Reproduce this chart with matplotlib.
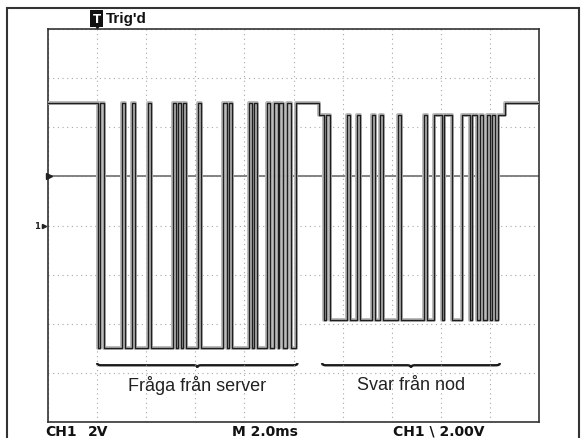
import numpy as np
import matplotlib
matplotlib.use("Agg")
import matplotlib.pyplot as plt
from matplotlib.path import Path
from matplotlib.patches import PathPatch, Rectangle

# scope settings
ms_per_div = 2.0
volt_per_div = 2.0
trig_time = 2.0
trig_level = 2.0

# levels of the two senders (V)
idle_high = 5.0
server_high = 5.0
server_low = -5.0
node_high = 4.5
node_low = -3.85

# edge times (ms), alternating fall / rise
server_edges = [2.020, 2.122, 2.286, 3.000, 3.122, 3.408, 3.531, 4.061,
                4.184, 5.082, 5.224, 5.286, 5.429, 5.490, 5.633, 6.122,
                6.245, 7.143, 7.286, 7.367, 7.510, 8.204, 8.327, 8.408,
                8.531, 8.939, 9.061, 9.224, 9.388, 9.429, 9.592, 9.755,
                9.918, 10.082]
node_start = 11.020
node_edges = [11.224, 11.306, 11.469, 12.163, 12.286, 12.592, 12.714,
              13.204, 13.327, 13.531, 13.653, 14.265, 14.388, 15.306,
              15.429, 15.714, 16.041, 16.122, 16.449, 16.857, 17.184,
              17.286, 17.490, 17.592, 17.735, 17.878, 18.020, 18.082,
              18.224, 18.327]
node_end = 18.612

brace_labels = ["Fråga från server", "Svar från nod"]


def build_trace():
    t = [0.0]
    v = [idle_high]
    for i, e in enumerate(server_edges):
        t.append(e)
        v.append(server_low if i % 2 == 0 else server_high)
    t.append(node_start)
    v.append(node_high)
    for i, e in enumerate(node_edges):
        t.append(e)
        v.append(node_low if i % 2 == 0 else node_high)
    t.append(node_end)
    v.append(idle_high)
    t.append(20.0)
    v.append(idle_high)
    return np.array(t), np.array(v)


def brace(ax, x0, x1, y, h=0.09, d=0.15):
    mid = (x0 + x1) / 2
    verts = [(x0, y + h), (x0, y), (x0 + d, y),
             (mid - d, y), (mid, y), (mid, y - h),
             (mid, y), (mid + d, y),
             (x1 - d, y), (x1, y), (x1, y + h)]
    codes = [Path.MOVETO, Path.CURVE3, Path.CURVE3,
             Path.LINETO, Path.CURVE3, Path.CURVE3,
             Path.CURVE3, Path.CURVE3,
             Path.LINETO, Path.CURVE3, Path.CURVE3]
    ax.add_patch(PathPatch(Path(verts, codes), fill=False, lw=1.7,
                           edgecolor="#1a1a1a", clip_on=False))


fig = plt.figure(figsize=(5.81, 4.39), dpi=100)
fig.patch.set_facecolor("white")

# outer frame of the screen
fig.add_artist(Rectangle((7 / 581, -0.05), 572 / 581, 1.05 - 9 / 439,
                         transform=fig.transFigure, fill=False,
                         lw=1.5, edgecolor="#333333"))

ax = fig.add_axes([48 / 581, 1 - 423 / 439, 491 / 581, 393 / 439])
ax.set_xlim(0, 10 * ms_per_div)
ax.set_ylim(-4 * volt_per_div, 4 * volt_per_div)
ax.set_xticks(np.arange(0, 20.1, ms_per_div))
ax.set_yticks(np.arange(-8, 8.1, volt_per_div))
ax.tick_params(length=0, labelbottom=False, labelleft=False)
ax.grid(True, color="#a8a8a8", lw=0.8, linestyle=(0, (1, 3.2)))
for s in ax.spines.values():
    s.set_color("#333333")
    s.set_linewidth(1.2)

# trigger level line
ax.axhline(trig_level, color="#7a7a7a", lw=1.3, zorder=2)
ax.plot([0.05], [trig_level], marker=">", ms=4, color="#222222",
        clip_on=False, zorder=5)

t, v = build_trace()
ax.step(t, v, where="post", color="#b8b8b8", lw=2.8, zorder=3)
ax.step(t, v, where="post", color="#1e1e1e", lw=1.0, zorder=4)

# braces and labels
brace_spans = [(server_edges[0] - 0.02, server_edges[-1] + 0.08),
               (node_edges[0] - 0.06, node_edges[-1] + 0.08)]
for (x0, x1), lab in zip(brace_spans, brace_labels):
    brace(ax, x0, x1, -5.69)
    ax.text((x0 + x1) / 2, -6.47, lab, ha="center", va="center",
            fontsize=13, family="Liberation Sans", color="#222222")

# markers outside the graticule
ax.plot([trig_time], [8.12], marker="v", ms=3.5, color="#222222",
        clip_on=False, zorder=5)
ax.text(-0.022, 0.5, "1", transform=ax.transAxes, ha="center",
        va="center", fontsize=6, fontweight="bold", color="#222222")
ax.plot([-0.009], [0.5], transform=ax.transAxes, marker=">", ms=3,
        color="#222222", clip_on=False)

# status texts
fig.text(96.5 / 581, 1 - 19.5 / 439, "T", ha="center", va="center",
         fontsize=8.5, fontweight="bold", color="white",
         family="DejaVu Sans",
         bbox=dict(boxstyle="square,pad=0.18", fc="#111111", ec="none"))
fig.text(106 / 581, 1 - 19.5 / 439, "Trig'd", ha="left", va="center",
         fontsize=11, fontweight="bold", family="Liberation Sans",
         color="#111111")

bottom_y = 1 - 432 / 439
for x, lab in [(45, "CH1"), (88, "2V"), (232, "M 2.0ms"),
               (393, "CH1 \\ 2.00V")]:
    fig.text(x / 581, bottom_y, lab, ha="left", va="center",
             fontsize=10, fontweight="heavy", color="#111111")

fig.savefig("out.png", dpi=100)
